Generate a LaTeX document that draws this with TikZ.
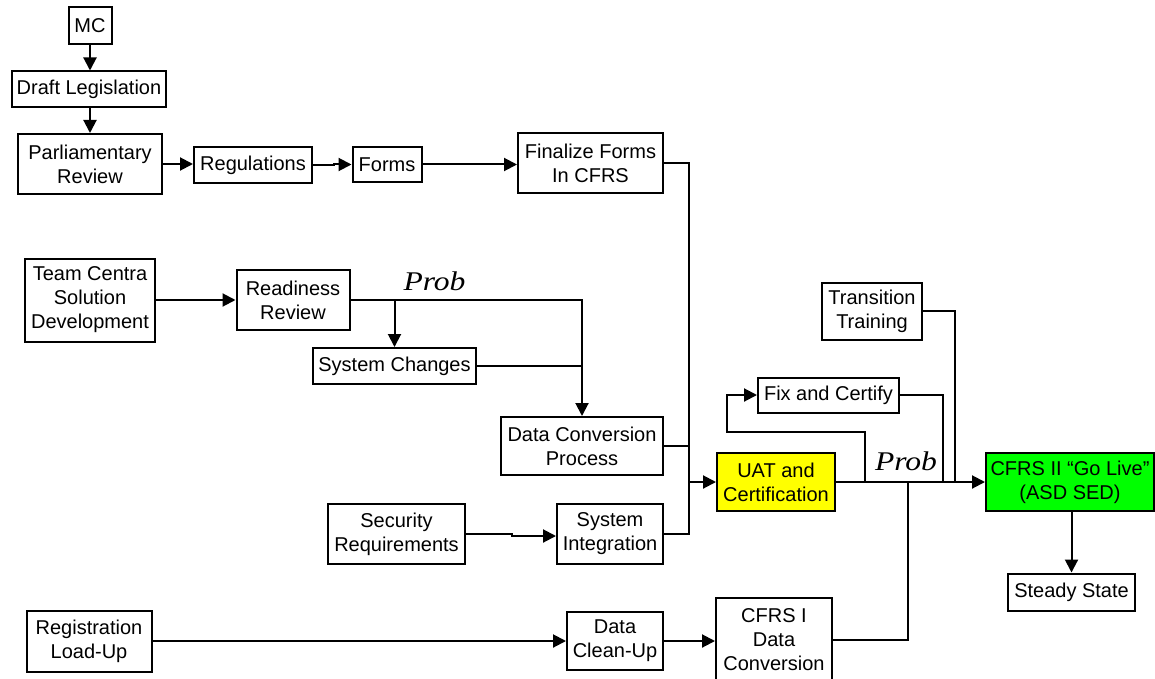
\documentclass[tikz,border=0pt]{standalone}
\usepackage{fontspec}
\usepackage{graphicx}
\setmainfont{Liberation Sans}
\newfontfamily\probfont{Liberation Serif}
\usetikzlibrary{arrows.meta}
\definecolor{uatyellow}{RGB}{255,255,0}
\definecolor{livegreen}{RGB}{0,255,0}
\newcommand{\probtext}{\scalebox{1.17}[1]{Prob}}
\begin{document}
\begin{tikzpicture}[x=1pt,y=-1pt,
  box/.style={draw, line width=2pt, inner sep=0pt, align=center,
    font=\fontsize{20}{24}\selectfont},
  wire/.style={line width=2pt},
  arr/.style={wire, -{Triangle[length=13pt,width=13pt]}},
  problabel/.style={inner sep=0pt, font=\probfont\itshape\fontsize{27}{30}\selectfont}]
\useasboundingbox (0,0) rectangle (1155,679);

% legislation track
\node[box, minimum width=43, minimum height=37] (mc) at (90,26) {MC};
\node[box, minimum width=154, minimum height=36] (draft) at (89,89.5) {Draft Legislation};
\node[box, minimum width=144, minimum height=60] (parl) at (90,164) {Parliamentary\\Review};
\node[box, minimum width=118, minimum height=36] (reg) at (253,165) {Regulations};
\node[box, minimum width=69, minimum height=35] (forms) at (387,164.5) {Forms};
\node[box, minimum width=145, minimum height=60] (fin) at (590.5,163) {Finalize Forms\\In CFRS};

% solution track
\node[box, minimum width=130, minimum height=83] (team) at (90,300) {Team Centra\\Solution\\Development};
\node[box, minimum width=113, minimum height=60] (ready) at (293,300) {Readiness\\Review};
\node[box, minimum width=163, minimum height=36] (sysch) at (394.5,366) {System Changes};
\node[box, minimum width=162, minimum height=58] (dcp) at (582,446) {Data Conversion\\Process};
\node[box, minimum width=137, minimum height=60] (sec) at (396.5,534) {Security\\Requirements};
\node[box, minimum width=106, minimum height=60] (sysint) at (610,534) {System\\Integration};

% data track
\node[box, minimum width=125, minimum height=61] (regload) at (89,641) {Registration\\Load-Up};
\node[box, minimum width=96, minimum height=58] (cleanup) at (615,641) {Data\\Clean-Up};
\node[box, minimum width=116, minimum height=84] (cfrs1) at (774,640) {CFRS I\\Data\\Conversion};

% certification and go-live
\node[box, fill=uatyellow, minimum width=118, minimum height=58] (uat) at (776,482) {UAT and\\Certification};
\node[box, minimum width=141, minimum height=35] (fix) at (828.5,395) {Fix and Certify};
\node[box, minimum width=100, minimum height=57] (trans) at (872,311) {Transition\\Training};
\node[box, fill=livegreen, minimum width=168, minimum height=58] (golive) at (1070,482) {CFRS II “Go Live”\\(ASD SED)};
\node[box, minimum width=127, minimum height=37] (steady) at (1071.5,592) {Steady State};

\node[problabel] (prob1) at (434.5,281) {\probtext};
\node[problabel] (prob2) at (906,461) {\probtext};

% legislation connectors
\draw[arr] (mc.south) -- (mc.south |- draft.north);
\draw[arr] (parl.north |- draft.south) -- (parl.north);
\draw[arr] (parl.east) -- (parl.east -| reg.west);
\draw[arr] (reg.east) -- ++(21,0) |- (forms.west);
\draw[arr] (forms.east) -- (forms.east -| fin.west);

% everything feeding UAT
\coordinate (bus) at (689,482);
\draw[wire] (fin.east) -| (bus);
\draw[wire] (dcp.east) -| (bus);
\draw[wire] (sysint.east) -| (bus);
\draw[arr] (bus) -- (bus -| uat.west);

% solution connectors
\draw[arr] (team.east) -- (team.east -| ready.west);
\draw[arr] (ready.east) -| (dcp.north);
\draw[arr] (ready.east -| sysch.north) -- (sysch.north);
\draw[wire] (sysch.east) -- (sysch.east -| dcp.north);
\draw[arr] (sec.east) -- ++(46,0) |- ([yshift=-2pt]sysint.west);

% data connectors
\draw[arr] (regload.east) -- (regload.east -| cleanup.west);
\draw[arr] (cleanup.east) -- (cleanup.east -| cfrs1.west);

% UAT to go-live, with the fix loop and joining inputs
\coordinate (fixdown) at (865,432);
\coordinate (fixleft) at (727,432);
\coordinate (fixret) at (943,482);
\coordinate (trainret) at (955,482);
\coordinate (convret) at (908,482);
\draw[arr] (uat.east) -- (uat.east -| golive.west);
\draw[arr] (uat.east -| fixdown) -- (fixdown) -- (fixleft) |- (fix.west);
\draw[wire] (fix.east) -| (fixret);
\draw[wire] (trans.east) -| (trainret);
\draw[wire] (cfrs1.east) -| (convret);
\draw[arr] (steady.north |- golive.south) -- (steady.north);
\end{tikzpicture}
\end{document}
